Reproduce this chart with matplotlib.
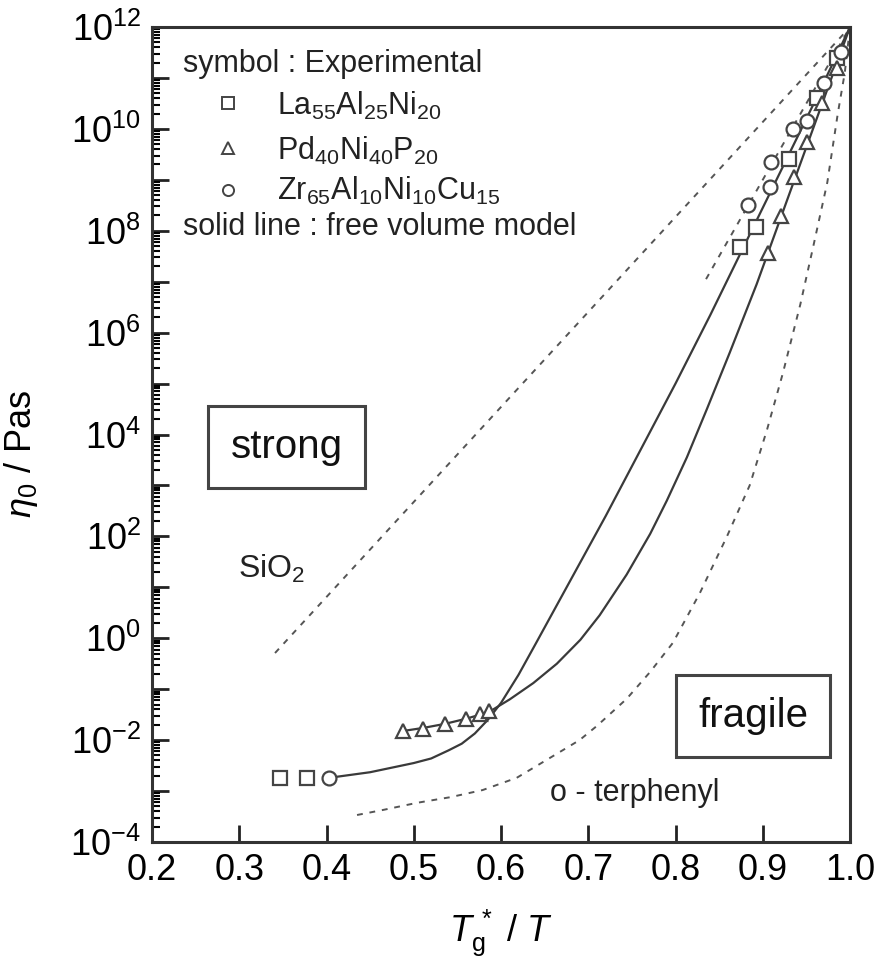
import numpy as np
import matplotlib
matplotlib.use("Agg")
import matplotlib.pyplot as plt

plt.rcParams['font.family'] = ['Liberation Sans', 'DejaVu Sans']
plt.rcParams['mathtext.fontset'] = 'custom'
plt.rcParams['mathtext.rm'] = 'Liberation Sans'
plt.rcParams['mathtext.it'] = 'Liberation Sans:italic'
plt.rcParams['mathtext.bf'] = 'Liberation Sans:bold'

# ---------------- data (x = Tg*/T, y = log10(eta / Pa s)) ----------------
la_x = [0.347, 0.378, 0.874, 0.892, 0.930, 0.962, 0.985]
la_y = [-2.74, -2.74, 7.69, 8.08, 9.40, 10.6, 11.4]

pd_x = [0.488, 0.511, 0.536, 0.560, 0.576, 0.586, 0.906, 0.921, 0.936, 0.951, 0.968, 0.985]
pd_y = [-1.82, -1.78, -1.68, -1.58, -1.48, -1.42, 7.57, 8.28, 9.06, 9.75, 10.5, 11.2]

zr_x = [0.403, 0.883, 0.908, 0.910, 0.935, 0.951, 0.970, 0.990]
zr_y = [-2.74, 8.51, 8.85, 9.34, 9.99, 10.15, 10.9, 11.5]

# free volume model (solid lines)
la_fit_x = [0.403, 0.45, 0.50, 0.52, 0.54, 0.555, 0.57, 0.585, 0.60, 0.62, 0.64, 0.68,
            0.72, 0.76, 0.80, 0.84, 0.88, 0.92, 0.96, 1.00]
la_fit_y = [-2.74, -2.63, -2.45, -2.36, -2.20, -2.07, -1.87, -1.60, -1.27, -0.72, -0.10,
            1.15, 2.40, 3.70, 5.00, 6.35, 7.75, 9.15, 10.55, 12.0]

pd_fit_x = [0.488, 0.511, 0.536, 0.560, 0.586, 0.61, 0.637, 0.664, 0.691, 0.713, 0.744,
            0.771, 0.790, 0.813, 0.836, 0.862, 0.893, 0.930, 0.965, 1.00]
pd_fit_y = [-1.82, -1.76, -1.68, -1.58, -1.45, -1.20, -0.88, -0.50, -0.03, 0.45, 1.25,
            2.05, 2.70, 3.55, 4.50, 5.60, 6.95, 8.70, 10.35, 12.0]

# dashed reference lines
sio2_x = [0.341, 1.00]
sio2_y = [-0.29, 12.0]

zr_line_x = [0.835, 1.00]
zr_line_y = [7.05, 12.0]

otp_x = [0.435, 0.465, 0.504, 0.542, 0.579, 0.618, 0.656, 0.690, 0.710, 0.744, 0.771,
         0.797, 0.828, 0.859, 0.885, 0.905, 0.923, 0.943, 0.958, 0.974, 0.986, 0.994, 1.00]
otp_y = [-3.47, -3.37, -3.23, -3.12, -2.98, -2.74, -2.35, -2.00, -1.72, -1.19, -0.66,
         -0.09, 0.89, 2.00, 3.00, 4.10, 5.20, 6.55, 7.70, 8.95, 10.30, 11.10, 12.0]

x_ticks = [0.2, 0.3, 0.4, 0.5, 0.6, 0.7, 0.8, 0.9, 1.0]
x_labels = ['0.2', '0.3', '0.4', '0.5', '0.6', '0.7', '0.8', '0.9', '1.0']
y_label_exps = [-4, -2, 0, 2, 4, 6, 8, 10, 12]

# ---------------- figure ----------------
W, H = 888, 961
fig = plt.figure(figsize=(W / 100, H / 100), dpi=100)
L, R, T, B = 152, 850, 27, 842
ax = fig.add_axes([L / W, 1 - B / H, (R - L) / W, (B - T) / H])

ax.set_xlim(0.2, 1.0)
ax.set_yscale('log')
ax.set_ylim(1e-4, 1e12)

def p(v):
    return [10.0 ** e for e in v]

dash_kw = dict(color='#555555', lw=1.4, ls=(0, (3, 3.5)))
solid_kw = dict(color='#3a3a3a', lw=1.6)

ax.plot(sio2_x, p(sio2_y), **dash_kw)
ax.plot(zr_line_x, p(zr_line_y), **dash_kw)
ax.plot(otp_x, p(otp_y), **dash_kw)
ax.plot(la_fit_x, p(la_fit_y), **solid_kw)
ax.plot(pd_fit_x, p(pd_fit_y), **solid_kw)

mk = dict(ls='none', mfc='white', mec='#444444', mew=1.6, ms=10)
ax.plot(la_x, p(la_y), marker='s', **mk)
ax.plot(pd_x, p(pd_y), marker='^', **mk)
ax.plot(zr_x, p(zr_y), marker='o', **mk)

# legend (manual)
lmk = dict(ls='none', mfc='white', mec='#444444', mew=1.4, ms=8, transform=ax.transAxes)
ax.plot([0.109], [0.907], marker='s', **lmk)
ax.plot([0.109], [0.852], marker='^', **lmk)
ax.plot([0.109], [0.800], marker='o', **lmk)

fs_leg = 22
ax.text(0.044, 0.945, 'symbol : Experimental', transform=ax.transAxes,
        fontsize=fs_leg, va='baseline', ha='left', color='#222222')
ax.text(0.179, 0.892, r'La$_{55}$Al$_{25}$Ni$_{20}$', transform=ax.transAxes,
        fontsize=fs_leg, va='baseline', ha='left', color='#222222')
ax.text(0.179, 0.837, r'Pd$_{40}$Ni$_{40}$P$_{20}$', transform=ax.transAxes,
        fontsize=fs_leg, va='baseline', ha='left', color='#222222')
ax.text(0.179, 0.788, r'Zr$_{65}$Al$_{10}$Ni$_{10}$Cu$_{15}$', transform=ax.transAxes,
        fontsize=fs_leg, va='baseline', ha='left', color='#222222')
ax.text(0.044, 0.745, 'solid line : free volume model', transform=ax.transAxes,
        fontsize=fs_leg, va='baseline', ha='left', color='#222222')

# region labels
box = dict(boxstyle='square,pad=0.55', fc='white', ec='#444444', lw=2.2)
ax.text(0.193, 0.485, 'strong', transform=ax.transAxes, fontsize=29,
        ha='center', va='center', bbox=box, color='#111111')
ax.text(0.861, 0.155, 'fragile', transform=ax.transAxes, fontsize=29,
        ha='center', va='center', bbox=box, color='#111111')
ax.text(0.171, 0.335, r'SiO$_2$', transform=ax.transAxes, fontsize=23,
        ha='center', va='center', color='#222222')
ax.text(0.692, 0.060, 'o - terphenyl', transform=ax.transAxes, fontsize=22,
        ha='center', va='center', color='#222222')

# axes styling
ax.set_xticks(x_ticks)
ax.set_xticklabels(x_labels)
ax.set_yticks([10.0 ** e for e in range(-4, 13)])
ax.set_yticklabels([(r'$10^{%d}$' % e) if e in y_label_exps else '' for e in range(-4, 13)])
ax.yaxis.set_minor_locator(matplotlib.ticker.LogLocator(base=10, subs=np.arange(2, 10), numticks=100))
ax.yaxis.set_minor_formatter(matplotlib.ticker.NullFormatter())

ax.tick_params(axis='both', which='major', direction='in', length=12, width=2,
               labelsize=26, color='#222222', top=False, right=False)
ax.tick_params(axis='x', pad=8)
ax.tick_params(axis='y', pad=8)
ax.tick_params(axis='y', which='minor', direction='in', length=6, width=1.5, right=False)
ax.tick_params(axis='x', which='minor', bottom=False)

for s in ax.spines.values():
    s.set_linewidth(2.2)
    s.set_color('#333333')

ax.set_xlabel(r'$T_{\rm g}^{\,*}$ / $T$', fontsize=26, labelpad=14)
ax.set_ylabel(r'$\eta_0$ / Pas', fontsize=26, labelpad=10)
ax.yaxis.set_label_coords((40 - L) / (R - L), (B - 454) / (B - T))

fig.savefig('out.png', dpi=100)
